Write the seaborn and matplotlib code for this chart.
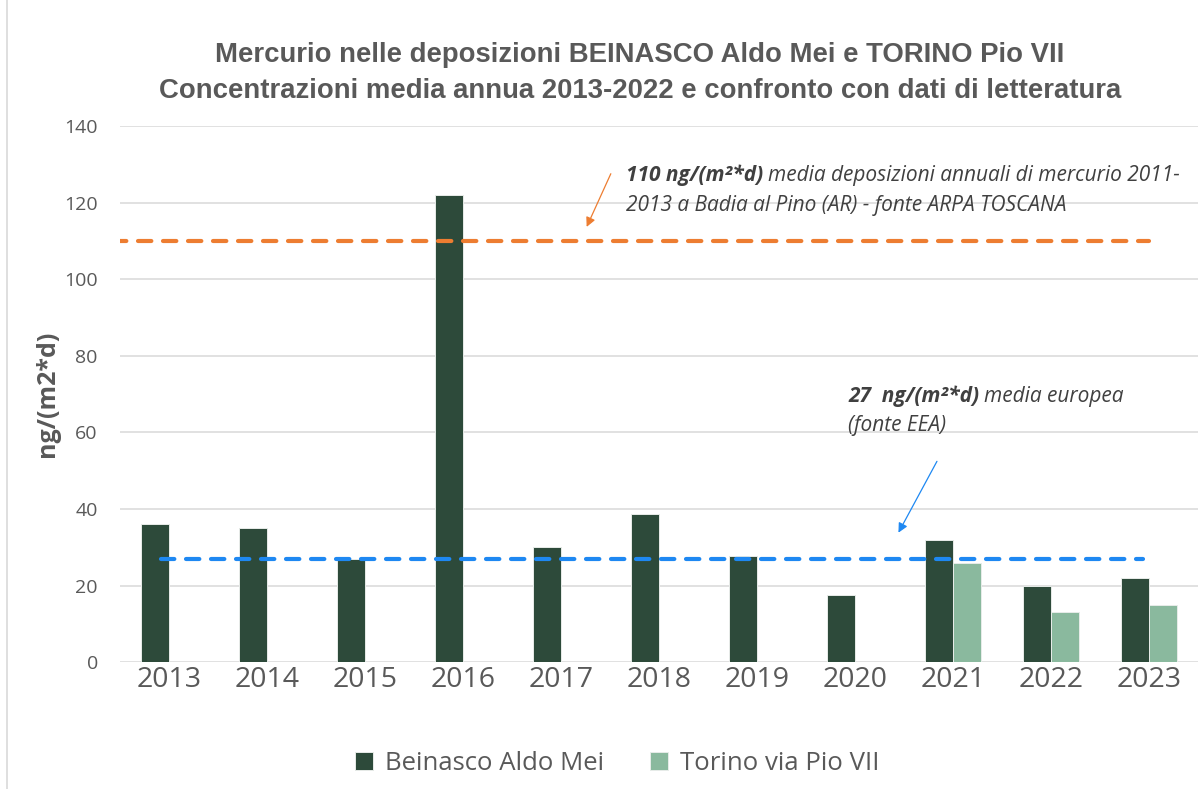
import matplotlib
matplotlib.use("Agg")
import matplotlib.pyplot as plt
import seaborn as sns
import pandas as pd
import numpy as np
from matplotlib.lines import Line2D

# Annual mean mercury deposition, ng/(m2*d)
years = ["2013", "2014", "2015", "2016", "2017", "2018", "2019", "2020", "2021", "2022", "2023"]
beinasco = [36, 35, 27, 122, 30, 38.6, 27.7, 17.5, 32, 20, 22]
torino = [np.nan, np.nan, np.nan, np.nan, np.nan, np.nan, np.nan, np.nan, 26, 13, 15]
series_names = ["Beinasco Aldo Mei", "Torino via Pio VII"]

# Reference values from the literature
ref_toscana = 110
ref_europe = 27

dark_green = "#2D4A3A"
light_green = "#8AB99E"
orange = "#ED7D31"
blue = "#1E88F2"
grey_text = "#595959"

df = pd.DataFrame({
    "anno": years * 2,
    "valore": beinasco + torino,
    "stazione": [series_names[0]] * len(years) + [series_names[1]] * len(years),
})

sns.set_theme(style="white")
plt.rcParams["font.family"] = ["Open Sans", "DejaVu Sans"]

W, H = 1203, 789
fig = plt.figure(figsize=(W / 100, H / 100), dpi=100)
ax = fig.add_axes([0.0998, 0.1606, 0.8960, 0.6797])

sns.barplot(data=df, x="anno", y="valore", hue="stazione", order=years,
            hue_order=series_names, palette=[dark_green, light_green],
            width=0.565, gap=0, edgecolor="#e8ece9", linewidth=0.7,
            saturation=1, ax=ax, legend=True, zorder=3)

ax.set_ylim(0, 140)
ax.set_xlim(-0.5, len(years) - 0.5)
ax.set_yticks(np.arange(0, 141, 20))
ax.yaxis.grid(True, color="#d9d9d9", linewidth=1.1, zorder=0)
ax.set_axisbelow(True)
for s in ax.spines.values():
    s.set_visible(False)
ax.tick_params(axis="both", length=0)
ax.tick_params(axis="y", labelsize=14, labelcolor=grey_text, pad=16)
ax.tick_params(axis="x", labelsize=20.5, labelcolor=grey_text, pad=3)
ax.set_xlabel("")
ax.set_ylabel("ng/(m2*d)", fontsize=18, fontweight="bold", color=grey_text,
              labelpad=3)

# Reference lines
ax.plot([-0.57, 10.0], [ref_toscana, ref_toscana], color=orange, lw=3,
        ls=(0, (3.2, 2.8)), dash_capstyle="round", zorder=4)
ax.plot([-0.08, 9.94], [ref_europe, ref_europe], color=blue, lw=3,
        ls=(0, (3.2, 2.8)), dash_capstyle="round", zorder=4)

# Annotation arrows
ax.annotate("", xy=(4.25, 113), xytext=(4.52, 128.2),
            arrowprops=dict(arrowstyle="-|>", color=orange, lw=0.9,
                            mutation_scale=14))
ax.annotate("", xy=(7.43, 33.2), xytext=(7.85, 53.1),
            arrowprops=dict(arrowstyle="-|>", color=blue, lw=0.9,
                            mutation_scale=14))

txt_kw = dict(fontsize=15, color="#404040", style="italic", va="baseline")
renderer = fig.canvas.get_renderer()


def label_pair(x, y, bold_part, rest):
    """Bold lead-in followed on the same baseline by regular italic text."""
    t = fig.text(x / W, 1 - y / H, bold_part, fontweight="bold", **txt_kw)
    x_end = t.get_window_extent(renderer).x1
    fig.text((x_end + 5) / W, 1 - y / H, rest, **txt_kw)


label_pair(626, 181, "110 ng/(m²*d)", "media deposizioni annuali di mercurio 2011-")
fig.text(626 / W, 1 - 211 / H, "2013 a Badia al Pino (AR) - fonte ARPA TOSCANA", **txt_kw)
label_pair(848, 402, "27  ng/(m²*d)", "media europea")
fig.text(848 / W, 1 - 431 / H, "(fonte EEA)", **txt_kw)

# Title
title_kw = dict(ha="center", va="baseline", fontsize=19.8, fontweight="bold",
                color=grey_text, family=["Liberation Sans", "DejaVu Sans"])
fig.text(640 / W, 1 - 62 / H,
         "Mercurio nelle deposizioni BEINASCO Aldo Mei e TORINO Pio VII", **title_kw)
fig.text(640 / W, 1 - 98 / H,
         "Concentrazioni media annua 2013-2022 e confronto con dati di letteratura",
         **title_kw)

# Legend
handles, labels = ax.get_legend_handles_labels()
ax.legend_.remove()
leg = fig.legend(handles, labels, loc="center", bbox_to_anchor=(0.513, 1 - 763 / H),
                 ncol=2, frameon=False, handlelength=0.7, handleheight=0.7,
                 handletextpad=0.45, columnspacing=1.8,
                 prop={"size": 18.5})
for t in leg.get_texts():
    t.set_color(grey_text)

# Chart area border
fig.add_artist(Line2D([7 / W, 7 / W], [0, 1], transform=fig.transFigure,
                      color="#d9d9d9", lw=1.2))

fig.savefig("out.png", dpi=100)
